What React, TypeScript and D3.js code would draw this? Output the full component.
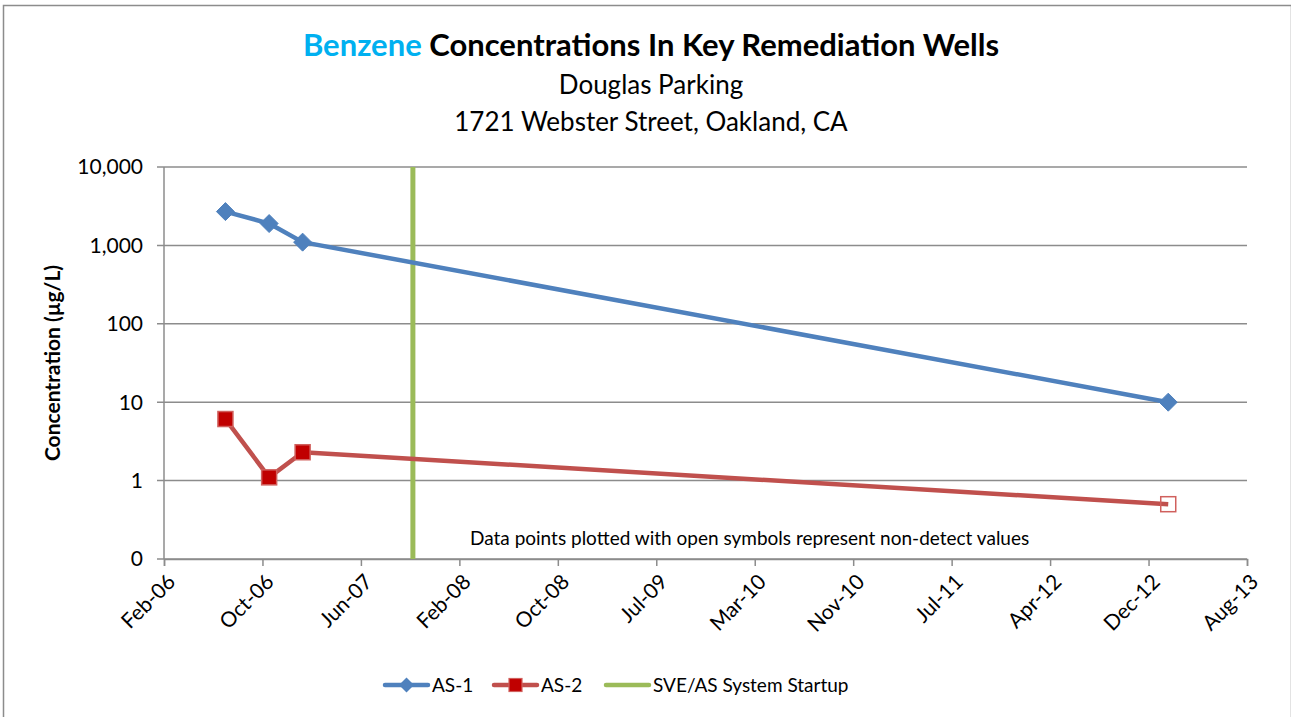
import React, { useRef, useEffect } from 'react';
import * as d3 from 'd3';

// data
const as1Dates = ['2006-07-09', '2006-10-28', '2007-01-21', '2013-01-27'];
const as1Values = [2700, 1900, 1100, 10];
const as2Dates = ['2006-07-09', '2006-10-28', '2007-01-21', '2013-01-27'];
const as2Values = [6.1, 1.1, 2.3, 0.5];
const as2NonDetect = [false, false, false, true];
const startupDate = '2007-10-28';
const yTickValues = [0.1, 1, 10, 100, 1000, 10000];
const yTickLabels = ['0', '1', '10', '100', '1,000', '10,000'];
const xStart = '2006-02-03';
const xTickStepDays = 250;
const xTickCount = 12;

const W = 1291;
const H = 717;
const FONT = 'Lato, "Open Sans", sans-serif';

const parse = d3.timeParse('%Y-%m-%d');

const App = () => {
  const svgRef = useRef<SVGSVGElement>(null);

  useEffect(() => {
    const svg = d3.select(svgRef.current);
    svg.selectAll('*').remove();

    const margin = { top: 167, left: 164, right: 44, bottom: 158 };
    const innerWidth = W - margin.left - margin.right;
    const innerHeight = H - margin.top - margin.bottom;

    const start = parse(xStart)!;
    const xTicks = d3.range(xTickCount).map(k => d3.timeDay.offset(start, k * xTickStepDays));

    const x = d3.scaleTime()
      .domain([xTicks[0], xTicks[xTicks.length - 1]])
      .range([0, innerWidth]);
    const y = d3.scaleLog()
      .domain([0.1, 10000])
      .range([innerHeight, 0]);

    // outer border
    svg.append('rect')
      .attr('x', 3.5).attr('y', 5.5)
      .attr('width', W - 3).attr('height', H + 10)
      .attr('fill', 'white')
      .attr('stroke', '#8c8c8c')
      .attr('stroke-width', 1.5);

    // titles
    const title = svg.append('text')
      .attr('x', 651).attr('y', 56)
      .attr('text-anchor', 'middle')
      .style('font-family', FONT)
      .style('font-weight', 'bold')
      .style('font-size', '31px');
    title.append('tspan').attr('fill', '#00B0F0').text('Benzene');
    title.append('tspan').attr('fill', 'black').text(' Concentrations In Key Remediation Wells');

    svg.append('text')
      .attr('x', 651).attr('y', 94)
      .attr('text-anchor', 'middle')
      .style('font-family', FONT)
      .style('font-size', '26px')
      .text('Douglas Parking');
    svg.append('text')
      .attr('x', 651).attr('y', 131)
      .attr('text-anchor', 'middle')
      .style('font-family', FONT)
      .style('font-size', '26px')
      .text('1721 Webster Street, Oakland, CA');

    const g = svg.append('g')
      .attr('transform', `translate(${margin.left},${margin.top})`);

    // gridlines
    g.append('g')
      .selectAll('line')
      .data(yTickValues)
      .enter()
      .append('line')
      .attr('x1', -7).attr('x2', innerWidth)
      .attr('y1', d => y(d)).attr('y2', d => y(d))
      .attr('stroke', '#8c8c8c')
      .attr('stroke-width', 1.5);

    // y axis
    g.append('line')
      .attr('x1', 0).attr('x2', 0)
      .attr('y1', 0).attr('y2', innerHeight)
      .attr('stroke', '#8c8c8c')
      .attr('stroke-width', 1.5);

    g.append('g')
      .selectAll('text')
      .data(yTickValues)
      .enter()
      .append('text')
      .attr('x', -21)
      .attr('y', d => y(d))
      .attr('dy', '0.35em')
      .attr('text-anchor', 'end')
      .style('font-family', FONT)
      .style('font-size', '21px')
      .text((d, i) => yTickLabels[i]);

    // x axis
    const xAxis = g.append('g')
      .attr('transform', `translate(0,${innerHeight})`)
      .call(d3.axisBottom(x).tickValues(xTicks).tickSize(7).tickFormat(d3.timeFormat('%b-%y') as any));
    xAxis.select('.domain').attr('stroke', '#8c8c8c').attr('stroke-width', 1.5);
    xAxis.selectAll('.tick line').attr('stroke', '#8c8c8c').attr('stroke-width', 1.5);
    xAxis.selectAll('.tick text')
      .attr('fill', 'black')
      .style('font-family', FONT)
      .style('font-size', '21px')
      .attr('text-anchor', 'end')
      .attr('dy', '0.35em')
      .attr('transform', 'translate(7,19) rotate(-45)')
      .attr('x', 0).attr('y', 0);

    // y label
    svg.append('text')
      .attr('transform', `translate(60,${margin.top + innerHeight / 2}) rotate(-90)`)
      .attr('text-anchor', 'middle')
      .style('font-family', FONT)
      .style('font-weight', 'bold')
      .style('font-size', '21px')
      .text('Concentration (µg/L)');

    // note
    g.append('text')
      .attr('x', x(parse('2010-03-01')!))
      .attr('y', innerHeight - 14)
      .attr('text-anchor', 'middle')
      .style('font-family', FONT)
      .style('font-size', '19px')
      .text('Data points plotted with open symbols represent non-detect values');

    // startup line
    const sx = x(parse(startupDate)!);
    g.append('line')
      .attr('x1', sx).attr('x2', sx)
      .attr('y1', y(10000)).attr('y2', y(0.1))
      .attr('stroke', '#9BBB59')
      .attr('stroke-width', 5);

    const line = d3.line<[Date, number]>()
      .x(d => x(d[0]))
      .y(d => y(d[1]));

    const as1 = as1Dates.map((d, i) => [parse(d)!, as1Values[i]] as [Date, number]);
    const as2 = as2Dates.map((d, i) => [parse(d)!, as2Values[i]] as [Date, number]);

    g.append('path')
      .attr('d', line(as1))
      .attr('fill', 'none')
      .attr('stroke', '#4F81BD')
      .attr('stroke-width', 4.5)
      .attr('stroke-linejoin', 'round');
    g.append('path')
      .attr('d', line(as2))
      .attr('fill', 'none')
      .attr('stroke', '#C0504D')
      .attr('stroke-width', 4.5)
      .attr('stroke-linejoin', 'round');

    const diamond = (s: number) => `M0,${-s}L${s},0L0,${s}L${-s},0Z`;

    g.append('g')
      .selectAll('path')
      .data(as1)
      .enter()
      .append('path')
      .attr('transform', d => `translate(${x(d[0])},${y(d[1])})`)
      .attr('d', diamond(9))
      .attr('fill', '#4F81BD')
      .attr('stroke', '#4F81BD')
      .attr('stroke-width', 1);

    g.append('g')
      .selectAll('rect')
      .data(as2)
      .enter()
      .append('rect')
      .attr('x', d => x(d[0]) - 7.5)
      .attr('y', d => y(d[1]) - 7.5)
      .attr('width', 15).attr('height', 15)
      .attr('fill', (d, i) => (as2NonDetect[i] ? 'none' : '#C00000'))
      .attr('stroke', '#D0605D')
      .attr('stroke-width', 1.5);

    // legend
    const ly = 685;
    const legend = svg.append('g');
    const items = [
      { label: 'AS-1', color: '#4F81BD', x0: 385, marker: 'diamond' },
      { label: 'AS-2', color: '#C0504D', x0: 494, marker: 'square' },
      { label: 'SVE/AS System Startup', color: '#9BBB59', x0: 606, marker: 'none' },
    ];
    items.forEach(it => {
      legend.append('line')
        .attr('x1', it.x0).attr('x2', it.x0 + 43)
        .attr('y1', ly).attr('y2', ly)
        .attr('stroke', it.color)
        .attr('stroke-width', 4.5)
        .attr('stroke-linecap', 'round');
      if (it.marker === 'diamond') {
        legend.append('path')
          .attr('transform', `translate(${it.x0 + 21.5},${ly})`)
          .attr('d', diamond(7.5))
          .attr('fill', it.color);
      } else if (it.marker === 'square') {
        legend.append('rect')
          .attr('x', it.x0 + 15).attr('y', ly - 6.5)
          .attr('width', 13).attr('height', 13)
          .attr('fill', '#C00000')
          .attr('stroke', '#D0605D')
          .attr('stroke-width', 1.2);
      }
      legend.append('text')
        .attr('x', it.x0 + 47)
        .attr('y', ly)
        .attr('dy', '0.35em')
        .style('font-family', FONT)
        .style('font-size', '19px')
        .text(it.label);
    });
  }, []);

  return (
    <svg
      ref={svgRef}
      width={W}
      height={H}
      viewBox={`0 0 ${W} ${H}`}
      style={{ position: 'absolute', left: 0, top: 0, background: 'white' }}
    ></svg>
  );
};

export default App;
